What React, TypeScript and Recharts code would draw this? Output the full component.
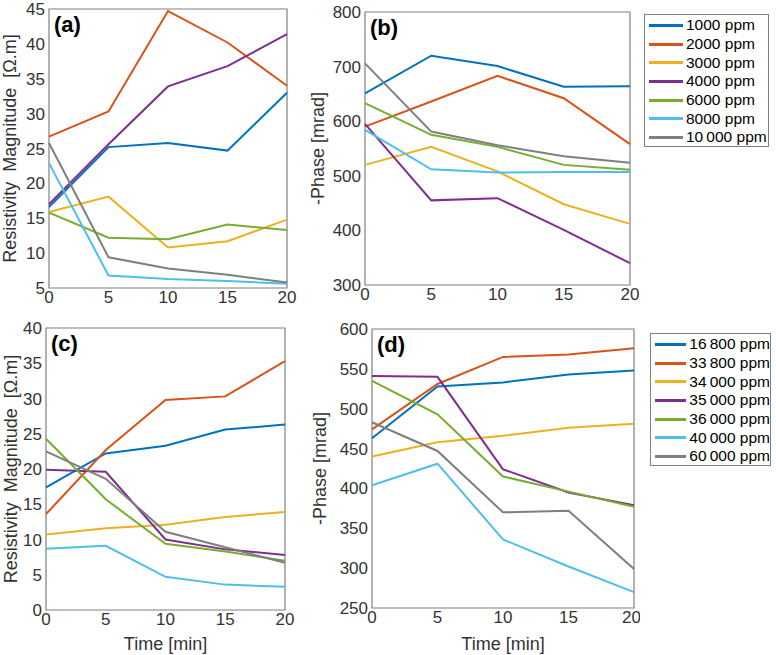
import { Line, LineChart, ReferenceArea, XAxis, YAxis } from "recharts";

const TIMES = [0, 5, 10, 15, 20];
const COLORS = ["#0072BD", "#D95319", "#EDB120", "#7E2F8E", "#77AC30", "#4DBEEE", "#7F7F7F"];

const TOP_LABELS = ["1000 ppm", "2000 ppm", "3000 ppm", "4000 ppm", "6000 ppm", "8000 ppm", "10\u2009000 ppm"];
const BOTTOM_LABELS = [
  "16\u2009800 ppm",
  "33\u2009800 ppm",
  "34\u2009000 ppm",
  "35\u2009000 ppm",
  "36\u2009000 ppm",
  "40\u2009000 ppm",
  "60\u2009000 ppm",
];

// (a) resistivity magnitude, low concentrations
const MAG_LOW = [
  [16.6, 25.2, 25.8, 24.7, 33.0],
  [26.7, 30.3, 44.7, 40.2, 34.0],
  [15.9, 18.1, 10.8, 11.7, 14.8],
  [17.0, 25.6, 33.9, 36.8, 41.4],
  [15.8, 12.2, 12.0, 14.1, 13.3],
  [22.9, 6.8, 6.3, 6.0, 5.6],
  [25.8, 9.4, 7.8, 6.9, 5.8],
];

// (b) -phase, low concentrations
const PHASE_LOW = [
  [651, 720, 701, 663, 664],
  [590, 636, 683, 642, 558],
  [520, 553, 508, 448, 412],
  [595, 455, 459, 401, 340],
  [633, 575, 553, 520, 511],
  [584, 512, 506, 507, 507],
  [706, 581, 556, 536, 524],
];

// (c) resistivity magnitude, high concentrations
const MAG_HIGH = [
  [17.4, 22.2, 23.3, 25.6, 26.3],
  [13.6, 22.7, 29.8, 30.3, 35.3],
  [10.7, 11.6, 12.1, 13.2, 13.9],
  [19.9, 19.6, 10.0, 8.6, 7.8],
  [24.3, 15.7, 9.4, 8.3, 7.0],
  [8.7, 9.1, 4.7, 3.6, 3.3],
  [22.5, 18.6, 11.1, 8.9, 6.7],
];

// (d) -phase, high concentrations
const PHASE_HIGH = [
  [463, 528, 533, 543, 548],
  [474, 531, 565, 568, 576],
  [440, 458, 466, 476, 481],
  [541, 540, 424, 395, 379],
  [535, 493, 415, 396, 377],
  [404, 431, 336, 302, 270],
  [483, 447, 370, 372, 299],
];

const TICKS_MAG_LOW = [5, 10, 15, 20, 25, 30, 35, 40, 45];
const TICKS_PHASE_LOW = [300, 400, 500, 600, 700, 800];
const TICKS_MAG_HIGH = [0, 5, 10, 15, 20, 25, 30, 35, 40];
const TICKS_PHASE_HIGH = [250, 300, 350, 400, 450, 500, 550, 600];

const MAG_LABEL = "Resistivity\u00a0\u00a0Magnitude\u00a0\u00a0[Ω.m]";
const PHASE_LABEL = "-Phase [mrad]";

const FONT = "'Liberation Sans', Arial, sans-serif";
const AXIS = "#808080";
const INK = "#333333";

const toRows = (series: number[][]) =>
  TIMES.map((t, i) => {
    const row: Record<string, number> = { t };
    series.forEach((s, k) => (row[`s${k}`] = s[i]));
    return row;
  });

interface PanelProps {
  series: number[][];
  domain: [number, number];
  ticks: number[];
  yLabel: string;
  tag: string;
  left: number;
  top: number;
  width: number;
  height: number;
  margin: { top: number; right: number; left: number; bottom: number };
  yWidth: number;
  xHeight: number;
  labelOffset: number;
  timeLabel?: boolean;
}

function Panel(p: PanelProps) {
  const data = toRows(p.series);
  return (
    <div style={{ position: "absolute", left: p.left, top: p.top }}>
      <LineChart width={p.width} height={p.height} data={data} margin={p.margin}>
        <XAxis
          dataKey="t"
          type="number"
          domain={[0, 20]}
          ticks={TIMES}
          axisLine={false}
          tickLine={false}
          tickSize={0}
          tickMargin={3}
          height={p.xHeight}
          tick={{ fontSize: 17, fill: INK, fontFamily: FONT }}
          label={
            p.timeLabel
              ? {
                  value: "Time [min]",
                  position: "insideBottom",
                  offset: 5,
                  style: { fontSize: 18, fill: INK, fontFamily: FONT },
                }
              : undefined
          }
        />
        <YAxis
          type="number"
          domain={p.domain}
          ticks={p.ticks}
          axisLine={false}
          tickLine={false}
          tickSize={0}
          tickMargin={4}
          width={p.yWidth}
          interval={0}
          tick={{ fontSize: 17, fill: INK, fontFamily: FONT }}
          label={{
            value: p.yLabel,
            angle: -90,
            position: "insideLeft",
            offset: p.labelOffset,
            style: { textAnchor: "middle", fontSize: 18, fill: INK, fontFamily: FONT },
          }}
        />
        <ReferenceArea
          x1={0}
          x2={20}
          y1={p.domain[0]}
          y2={p.domain[1]}
          fill="none"
          stroke={AXIS}
          strokeWidth={1.2}
        />
        {p.series.map((_, k) => (
          <Line
            key={k}
            dataKey={`s${k}`}
            type="linear"
            stroke={COLORS[k]}
            strokeWidth={2}
            dot={false}
            isAnimationActive={false}
          />
        ))}
      </LineChart>
      <div
        style={{
          position: "absolute",
          left: p.margin.left + p.yWidth + 5,
          top: p.margin.top + 3,
          fontFamily: FONT,
          fontWeight: 700,
          fontSize: 22,
          color: "#000",
        }}
      >
        {p.tag}
      </div>
    </div>
  );
}

function LegendBox({ labels, left, top, width, height }: { labels: string[]; left: number; top: number; width: number; height: number }) {
  return (
    <div
      style={{
        position: "absolute",
        left,
        top,
        width,
        height,
        boxSizing: "border-box",
        border: `1px solid ${AXIS}`,
        background: "#fff",
        fontFamily: FONT,
        fontSize: 15.5,
        color: "#000",
        paddingTop: 1,
      }}
    >
      {labels.map((l, k) => (
        <div key={l} style={{ display: "flex", alignItems: "center", height: 18.7, paddingLeft: 4 }}>
          <div style={{ width: 34, height: 0, borderTop: `3px solid ${COLORS[k]}`, marginRight: 3 }} />
          <span style={{ whiteSpace: "nowrap" }}>{l}</span>
        </div>
      ))}
    </div>
  );
}

export default function App() {
  return (
    <div style={{ position: "absolute", left: 0, top: 0, width: 776, height: 655, background: "#fff", overflow: "hidden" }}>
      <Panel
        series={MAG_LOW}
        domain={[5, 45]}
        ticks={TICKS_MAG_LOW}
        yLabel={MAG_LABEL}
        tag="(a)"
        left={0}
        top={0}
        width={300}
        height={320}
        margin={{ top: 9, right: 13, left: 0, bottom: 0 }}
        yWidth={49}
        xHeight={32}
        labelOffset={10}
      />
      <Panel
        series={PHASE_LOW}
        domain={[300, 800]}
        ticks={TICKS_PHASE_LOW}
        yLabel={PHASE_LABEL}
        tag="(b)"
        left={300}
        top={0}
        width={340}
        height={320}
        margin={{ top: 12, right: 10, left: 0, bottom: 0 }}
        yWidth={65}
        xHeight={35}
        labelOffset={18}
      />
      <Panel
        series={MAG_HIGH}
        domain={[0, 40]}
        ticks={TICKS_MAG_HIGH}
        yLabel={MAG_LABEL}
        tag="(c)"
        left={0}
        top={320}
        width={300}
        height={335}
        margin={{ top: 8, right: 15, left: 0, bottom: 0 }}
        yWidth={46}
        xHeight={45}
        labelOffset={11}
        timeLabel
      />
      <Panel
        series={PHASE_HIGH}
        domain={[250, 600]}
        ticks={TICKS_PHASE_HIGH}
        yLabel={PHASE_LABEL}
        tag="(d)"
        left={300}
        top={320}
        width={340}
        height={335}
        margin={{ top: 9, right: 6, left: 0, bottom: 0 }}
        yWidth={72}
        xHeight={47}
        labelOffset={20}
        timeLabel
      />
      <LegendBox labels={TOP_LABELS} left={644} top={14} width={125} height={133} />
      <LegendBox labels={BOTTOM_LABELS} left={650} top={333} width={121} height={133} />
    </div>
  );
}
